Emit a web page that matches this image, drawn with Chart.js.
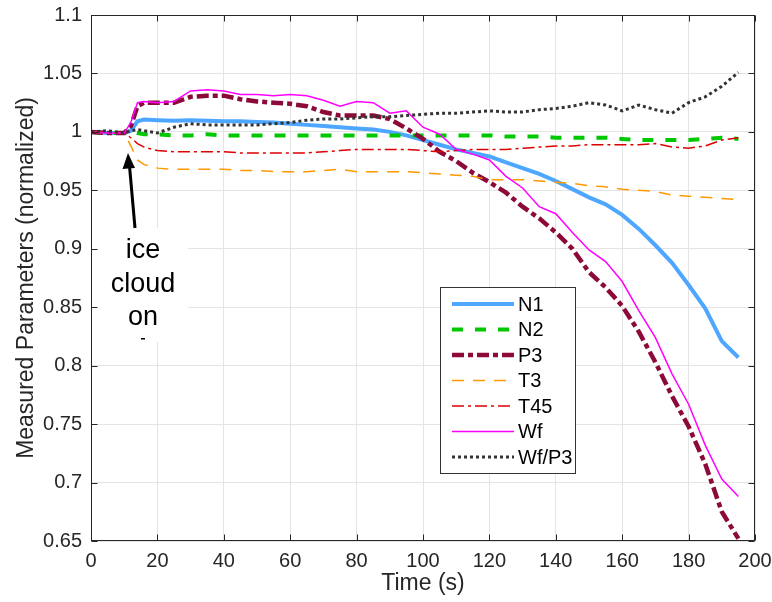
<!DOCTYPE html>
<html>
<head>
<meta charset="utf-8">
<script src="https://cdn.jsdelivr.net/npm/chart.js@4"></script>
<style>
  html, body { margin: 0; padding: 0; background: #fff; }
</style>
</head>
<body>
<canvas id="chart" width="772" height="602"></canvas>
<script>
// Time axis (s)
const time = [0, 5, 10, 12, 14, 16, 20, 25, 30, 35, 40, 45, 50, 55, 60, 65, 70, 75, 80, 85, 90, 95,
  100, 105, 110, 115, 120, 125, 130, 135, 140, 145, 150, 155, 160, 165, 170, 175, 180, 185, 190, 195];

// Measured parameters, normalized
const n1 = [1.0, 0.999, 0.999, 1.001, 1.009, 1.0105, 1.010, 1.0095, 1.010, 1.0095, 1.009, 1.009, 1.0085, 1.008,
  1.007, 1.006, 1.005, 1.004, 1.003, 1.002, 1.000, 0.997, 0.993, 0.989, 0.985, 0.982, 0.979, 0.974, 0.969,
  0.964, 0.958, 0.951, 0.944, 0.938, 0.929, 0.917, 0.903, 0.888, 0.869, 0.849, 0.821, 0.807];
const n2 = [1.0, 0.999, 0.999, 1.0, 0.999, 0.998, 0.998, 0.997, 0.997, 0.998, 0.997, 0.997, 0.997, 0.997,
  0.997, 0.997, 0.997, 0.997, 0.997, 0.997, 0.997, 0.997, 0.997, 0.997, 0.997, 0.997, 0.997, 0.996, 0.996,
  0.996, 0.995, 0.995, 0.995, 0.995, 0.994, 0.993, 0.993, 0.993, 0.993, 0.994, 0.995, 0.994];
const p3 = [1.0, 0.999, 0.999, 1.005, 1.022, 1.025, 1.025, 1.025, 1.030, 1.031, 1.031, 1.028, 1.026, 1.025,
  1.024, 1.022, 1.017, 1.014, 1.014, 1.014, 1.011, 1.003, 0.994, 0.983, 0.975, 0.965, 0.957, 0.948, 0.936,
  0.926, 0.914, 0.900, 0.880, 0.867, 0.851, 0.829, 0.803, 0.774, 0.748, 0.716, 0.675, 0.652];
const t3 = [1.0, 0.999, 0.999, 0.988, 0.976, 0.972, 0.969, 0.968, 0.968, 0.968, 0.968, 0.967, 0.967, 0.966,
  0.966, 0.966, 0.967, 0.968, 0.966, 0.966, 0.966, 0.966, 0.965, 0.964, 0.963, 0.962, 0.959, 0.959, 0.959,
  0.958, 0.957, 0.956, 0.954, 0.953, 0.951, 0.950, 0.949, 0.946, 0.945, 0.944, 0.943, 0.942];
const t45 = [1.0, 0.999, 0.999, 0.995, 0.990, 0.987, 0.984, 0.983, 0.983, 0.983, 0.983, 0.982, 0.982, 0.982,
  0.982, 0.982, 0.983, 0.984, 0.985, 0.985, 0.985, 0.985, 0.984, 0.983, 0.984, 0.985, 0.985, 0.985, 0.986,
  0.987, 0.988, 0.988, 0.989, 0.989, 0.989, 0.989, 0.990, 0.987, 0.986, 0.988, 0.993, 0.995];
const wf = [1.0, 0.999, 0.999, 1.008, 1.025, 1.026, 1.025, 1.026, 1.035, 1.036, 1.035, 1.032, 1.032, 1.031,
  1.032, 1.031, 1.027, 1.022, 1.026, 1.025, 1.016, 1.018, 1.004, 0.998, 0.985, 0.981, 0.976, 0.962, 0.952,
  0.936, 0.930, 0.914, 0.899, 0.889, 0.872, 0.847, 0.824, 0.793, 0.767, 0.732, 0.703, 0.688];
const wfp3 = [1.0, 1.001, 0.999, 1.001, 1.002, 1.001, 0.999, 1.004, 1.007, 1.006, 1.006, 1.006, 1.006, 1.007,
  1.008, 1.010, 1.011, 1.011, 1.012, 1.013, 1.013, 1.014, 1.015, 1.016, 1.016, 1.017, 1.018, 1.017, 1.017,
  1.019, 1.020, 1.022, 1.025, 1.023, 1.018, 1.023, 1.019, 1.016, 1.025, 1.030, 1.039, 1.051];

const xTicks = [0, 20, 40, 60, 80, 100, 120, 140, 160, 180, 200];
const yTicks = [0.65, 0.7, 0.75, 0.8, 0.85, 0.9, 0.95, 1, 1.05, 1.1];
const annotationLines = ['ice', 'cloud', 'on'];

const FONT = '"Liberation Sans", Arial, sans-serif';
const AXIS_COLOR = '#262626';

function series(label, values, color, width, dash, order) {
  return {
    label: label,
    data: values.map((v, i) => ({ x: time[i], y: v })),
    borderColor: color,
    borderWidth: width,
    borderDash: dash,
    pointRadius: 0,
    tension: 0,
    fill: false,
    order: order
  };
}

// white box + arrow for the "ice cloud on" note, axes frame with inward ticks
const annotation = {
  id: 'annotation',
  afterDatasetsDraw(chart) {
    const { ctx, chartArea: a, scales: { x, y } } = chart;
    ctx.save();

    ctx.fillStyle = '#fff';
    ctx.fillRect(a.left + 1, 228, 96, 114);
    ctx.fillStyle = '#000';
    ctx.font = '27px ' + FONT;
    ctx.textAlign = 'center';
    ctx.textBaseline = 'middle';
    annotationLines.forEach((s, i) => ctx.fillText(s, 143, 251 + i * 33.5));
    ctx.fillRect(141, 338, 4, 1.5);

    // arrow
    ctx.strokeStyle = '#000';
    ctx.lineWidth = 3;
    ctx.beginPath();
    ctx.moveTo(135, 228);
    ctx.lineTo(129.5, 166);
    ctx.stroke();
    ctx.beginPath();
    ctx.moveTo(128, 153);
    ctx.lineTo(122.5, 169);
    ctx.lineTo(135, 168);
    ctx.closePath();
    ctx.fill();

    // frame
    ctx.strokeStyle = AXIS_COLOR;
    ctx.lineWidth = 1;
    const l = Math.round(a.left) + 0.5, r = Math.round(a.right) - 0.5;
    const t = Math.round(a.top) + 0.5, b = Math.round(a.bottom) - 0.5;
    ctx.strokeRect(l, t, r - l, b - t);
    ctx.beginPath();
    xTicks.forEach(v => {
      const px = Math.round(x.getPixelForValue(v)) + 0.5;
      ctx.moveTo(px, b); ctx.lineTo(px, b - 6);
      ctx.moveTo(px, t); ctx.lineTo(px, t + 6);
    });
    yTicks.forEach(v => {
      const py = Math.round(y.getPixelForValue(v)) + 0.5;
      ctx.moveTo(l, py); ctx.lineTo(l + 6, py);
      ctx.moveTo(r, py); ctx.lineTo(r - 6, py);
    });
    ctx.stroke();
    ctx.restore();
  }
};

// legend box drawn in the plot, MATLAB style
const legendBox = {
  id: 'legendBox',
  afterDraw(chart) {
    const ctx = chart.ctx;
    const bx = 440.5, by = 287.5, bw = 135, bh = 186;
    ctx.save();
    ctx.fillStyle = '#fff';
    ctx.fillRect(bx, by, bw, bh);
    ctx.strokeStyle = '#333';
    ctx.lineWidth = 1;
    ctx.strokeRect(bx, by, bw, bh);
    ctx.font = '20px ' + FONT;
    ctx.textBaseline = 'middle';
    chart.data.datasets.forEach((ds, i) => {
      const yy = 304 + i * 25.5;
      ctx.strokeStyle = ds.borderColor;
      ctx.lineWidth = ds.borderWidth;
      ctx.setLineDash(ds.borderDash);
      ctx.beginPath();
      ctx.moveTo(452, yy);
      ctx.lineTo(514, yy);
      ctx.stroke();
      ctx.setLineDash([]);
      ctx.fillStyle = '#000';
      ctx.fillText(ds.label, 518, yy + 1);
    });
    ctx.restore();
  }
};

new Chart(document.getElementById('chart'), {
  type: 'line',
  data: {
    datasets: [
      series('N1', n1, '#4DA6FF', 4, [], 6),
      series('N2', n2, '#00C800', 4, [11, 12], 5),
      series('P3', p3, '#8C0A3A', 4.5, [12, 4, 5, 4], 4),
      series('T3', t3, '#FF9900', 1.5, [12, 9], 3),
      series('T45', t45, '#DD0000', 1.5, [12, 4, 3, 4], 2),
      series('Wf', wf, '#FF00FF', 1.5, [], 1),
      series('Wf/P3', wfp3, '#333333', 3, [3, 3], 0)
    ]
  },
  options: {
    responsive: false,
    animation: false,
    layout: { padding: { left: 0, top: 15, right: 17, bottom: 0 } },
    plugins: {
      legend: { display: false },
      tooltip: { enabled: false }
    },
    scales: {
      x: {
        type: 'linear',
        min: 0,
        max: 200,
        afterBuildTicks: s => { s.ticks = xTicks.map(v => ({ value: v })); },
        afterFit: s => { s.height = 61; s.paddingLeft = 0; s.paddingRight = 0; },
        grid: { color: '#E4E4E4', drawTicks: false },
        border: { display: false },
        ticks: { color: AXIS_COLOR, font: { family: FONT, size: 20 }, padding: 8, maxRotation: 0 },
        title: { display: true, text: 'Time (s)', color: AXIS_COLOR, font: { family: FONT, size: 23 }, padding: { top: 0, bottom: 5 } }
      },
      y: {
        min: 0.65,
        max: 1.1,
        afterBuildTicks: s => { s.ticks = yTicks.map(v => ({ value: v })); },
        afterFit: s => { s.width = 91; s.paddingTop = 0; s.paddingBottom = 0; },
        grid: { color: '#E4E4E4', drawTicks: false },
        border: { display: false },
        ticks: { color: AXIS_COLOR, font: { family: FONT, size: 20 }, padding: 9, callback: v => String(+v.toFixed(2)) },
        title: { display: true, text: 'Measured Parameters (normalized)', color: AXIS_COLOR, font: { family: FONT, size: 23 }, padding: { top: 13, bottom: 0 } }
      }
    }
  },
  plugins: [annotation, legendBox]
});
</script>
</body>
</html>
